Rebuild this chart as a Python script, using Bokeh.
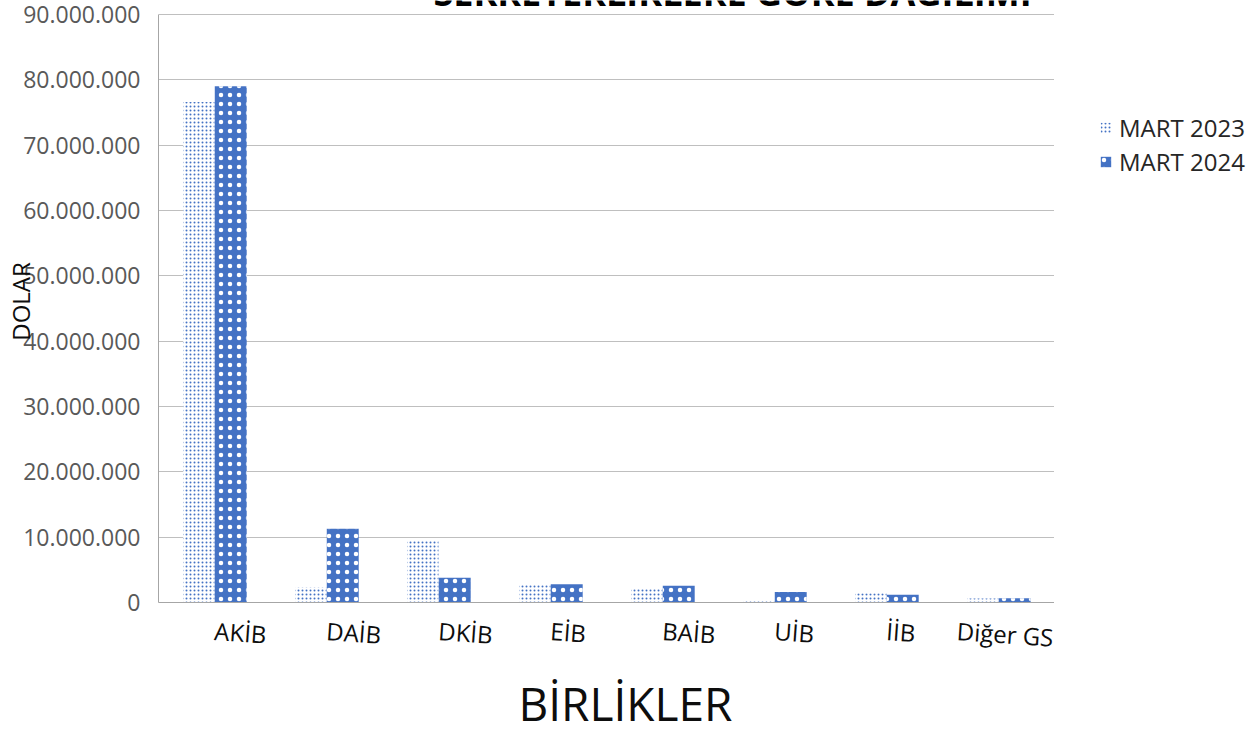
from bokeh.plotting import figure
from bokeh.layouts import row
from bokeh.models import (FactorRange, Range1d, Legend, LegendItem, Label, Title,
                          ColumnDataSource, FixedTicker)
from bokeh.transform import dodge
from bokeh.embed import file_html
from bokeh.resources import INLINE

categories = ["AKİB", "DAİB", "DKİB", "EİB", "BAİB", "UİB", "İİB", "Diğer GS"]
mart_2023 = [76_600_000, 2_300_000, 9_400_000, 2_700_000, 2_100_000, 300_000, 1_400_000, 600_000]
mart_2024 = [79_000_000, 11_300_000, 3_800_000, 2_800_000, 2_550_000, 1_600_000, 1_200_000, 650_000]
series_names = ["MART 2023", "MART 2024"]
y_ticks = [0, 10_000_000, 20_000_000, 30_000_000, 40_000_000, 50_000_000,
           60_000_000, 70_000_000, 80_000_000, 90_000_000]
y_tick_labels = ["0", "10.000.000", "20.000.000", "30.000.000", "40.000.000", "50.000.000",
                 "60.000.000", "70.000.000", "80.000.000", "90.000.000"]
title_text = "SEKRETERLİKLERE GÖRE DAĞILIMI"
x_title = "BİRLİKLER"
y_title = "DOLAR"

BLUE = "#4472C4"
FONT = "Open Sans"

style_2023 = dict(fill_color="white", line_color=None,
                  hatch_pattern="dot", hatch_color=BLUE, hatch_scale=4, hatch_weight=2.0)
style_2024 = dict(fill_color=BLUE, line_color=None,
                  hatch_pattern="dot", hatch_color="white", hatch_scale=9, hatch_weight=1.2)

src = ColumnDataSource(dict(cat=categories, y2023=mart_2023, y2024=mart_2024))

# main chart: the frame reaches the top of the canvas so the cut-off title can sit above 90M
p = figure(width=1054, height=729, output_backend="svg", toolbar_location=None,
           x_range=FactorRange(*categories, range_padding=0),
           y_range=Range1d(0, 92_140_000),
           min_border_left=158, min_border_right=0, min_border_top=0, min_border_bottom=126)
p.outline_line_color = None
p.background_fill_color = "white"
p.border_fill_color = "white"

p.vbar(x=dodge("cat", -0.14, range=p.x_range), top="y2023", width=0.28, source=src, **style_2023)
p.vbar(x=dodge("cat", 0.145, range=p.x_range), top="y2024", width=0.285, source=src, **style_2024)

# y axis
p.yaxis.ticker = FixedTicker(ticks=y_ticks)
p.yaxis.bounds = (y_ticks[0], y_ticks[-1])
p.yaxis.major_label_overrides = dict(zip(y_ticks, y_tick_labels))
p.yaxis.major_label_text_font = FONT
p.yaxis.major_label_text_font_size = "23px"
p.yaxis.major_label_text_color = "#595959"
p.yaxis.major_label_standoff = 12
p.yaxis.major_tick_line_color = None
p.yaxis.major_tick_out = 6
p.yaxis.minor_tick_line_color = None
p.yaxis.axis_line_color = "#a6a6a6"
p.yaxis.axis_label = y_title
p.yaxis.axis_label_text_font = FONT
p.yaxis.axis_label_text_font_size = "24px"
p.yaxis.axis_label_text_font_style = "normal"
p.yaxis.axis_label_text_color = "#0d0d0d"
p.yaxis.axis_label_standoff = -17

# x axis: labels start at the category centre and tilt slightly downward
p.xaxis.major_label_orientation = -0.07
p.xaxis.major_label_text_font = FONT
p.xaxis.major_label_text_font_size = "24px"
p.xaxis.major_label_text_color = "#0d0d0d"
p.xaxis.major_label_standoff = 22
p.xaxis.major_tick_line_color = None
p.xaxis.minor_tick_line_color = None
p.xaxis.axis_line_color = "#a6a6a6"

p.xgrid.grid_line_color = None
p.ygrid.grid_line_color = "#bfbfbf"
p.ygrid.grid_line_width = 1

xt = Title(text=x_title, align="left", offset=360,
           text_font=FONT, text_font_size="46px", text_font_style="normal",
           text_color="#0d0d0d")
try:
    xt.standoff = -8
except Exception:
    xt.standoff = 0
p.add_layout(xt, "below")

# chart title, cut off at the top edge as in the original
p.add_layout(Label(x=574, y=610, x_units="screen", y_units="screen", text=title_text,
                   text_align="center", text_baseline="alphabetic",
                   text_font=FONT, text_font_style="bold", text_font_size="36px",
                   text_color="black"))

# legend panel on the right; its frame is aligned with the main frame (0..603)
pl = figure(width=205, height=729, output_backend="svg", toolbar_location=None,
            x_axis_type=None, y_axis_type=None, x_range=(0, 1), y_range=(0, 1),
            min_border_left=0, min_border_top=0, min_border_right=0, min_border_bottom=126)
pl.outline_line_color = None
pl.background_fill_color = "white"
pl.border_fill_color = "white"
k1 = pl.vbar(x=[-10], top=[0], width=0.3, **style_2023)
k2 = pl.vbar(x=[-10], top=[0], width=0.3, **style_2024)
legend = Legend(items=[LegendItem(label=series_names[0], renderers=[k1]),
                       LegendItem(label=series_names[1], renderers=[k2])],
                location=(45, 424), orientation="vertical",
                label_text_font=FONT, label_text_font_size="24px", label_text_color="#262626",
                glyph_width=13, glyph_height=13, label_standoff=7, label_height=26,
                spacing=1, padding=0, margin=0,
                border_line_color=None, background_fill_alpha=0)
pl.add_layout(legend)

layout = row(p, pl)
open("out.html", "w").write(file_html(layout, INLINE))
